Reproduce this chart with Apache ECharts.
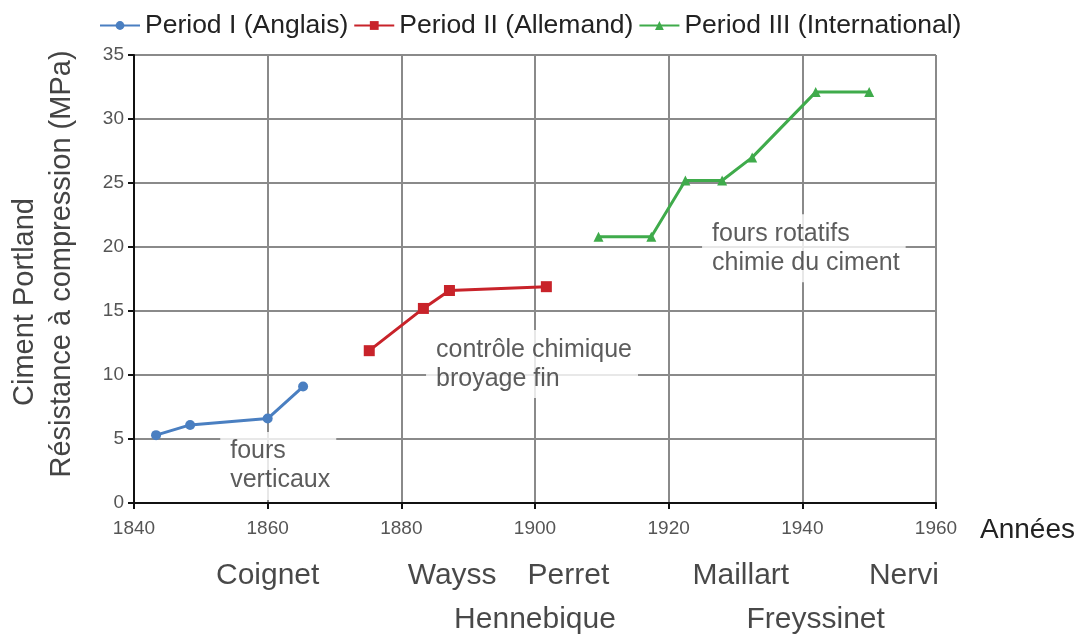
<!DOCTYPE html>
<html>
<head>
<meta charset="utf-8">
<script src="https://cdn.jsdelivr.net/npm/echarts@6/dist/echarts.min.js"></script>
<style>
  html, body { margin: 0; padding: 0; background: #fff; }
  #chart { width: 1085px; height: 634px; }
</style>
</head>
<body>
<div id="chart"></div>
<script>
// values: [year, MPa]
const period1 = [[1843.3, 5.3], [1848.4, 6.1], [1860, 6.6], [1865.3, 9.1]]
const period2 = [[1875.2, 11.9], [1883.3, 15.2], [1887.2, 16.6], [1901.7, 16.9]]
const period3 = [[1909.5, 20.8], [1917.4, 20.8], [1922.5, 25.2], [1928, 25.2], [1932.5, 27.0], [1942, 32.1], [1950, 32.1]]
const seriesNames = ['Period I (Anglais)', 'Period II (Allemand)', 'Period III (International)']

// notes inside the plot: [year of left edge, MPa, text]
const notes = [
  [1852.9, 2.9, 'fours\nverticaux'],
  [1883.7, 10.85, 'contrôle chimique\nbroyage fin'],
  [1925.0, 19.9, 'fours rotatifs\nchimie du ciment']
]
// engineers under the year axis: [year, row, name]
const engineers = [
  [1860, 0, 'Coignet'], [1887.6, 0, 'Wayss'], [1905, 0, 'Perret'], [1930.8, 0, 'Maillart'], [1955.2, 0, 'Nervi'],
  [1900, 1, 'Hennebique'], [1942, 1, 'Freyssinet']
]
const rowValues = [-5.7, -9.1]

const font = 'Liberation Sans, Arial, sans-serif'
const chart = echarts.init(document.getElementById('chart'))

const lineSeries = (name, data, color, symbol, size) => ({
  name, type: 'line', data, symbol, symbolSize: size, z: 5,
  lineStyle: { color, width: 3 }, itemStyle: { color }
})

chart.setOption({
  animation: false,
  backgroundColor: '#fff',
  textStyle: { fontFamily: font },
  legend: {
    data: seriesNames, top: 7, left: 94, itemWidth: 40, itemHeight: 11, itemGap: 5,
    textStyle: { fontSize: 26.5, color: '#222', fontFamily: font }
  },
  grid: { left: 134, right: 149, top: 55, bottom: 131, containLabel: false, outerBoundsMode: 'none' },
  xAxis: {
    type: 'value', min: 1840, max: 1960, interval: 20,
    name: 'Années', nameLocation: 'end', nameGap: 44,
    nameTextStyle: { fontSize: 28, color: '#222', verticalAlign: 'top', padding: [13, 0, 0, 0] },
    axisLine: { lineStyle: { color: '#111', width: 2 } },
    axisTick: { show: true, length: 6, lineStyle: { color: '#111', width: 2 } },
    axisLabel: { fontSize: 19, color: '#555', margin: 16, formatter: v => String(v) },
    splitLine: { lineStyle: { color: '#8a8a8a', width: 2 } }
  },
  yAxis: {
    type: 'value', min: 0, max: 35, interval: 5,
    name: '{a|Ciment Portland}\n{b|Résistance à compression (MPa)}',
    nameLocation: 'middle', nameRotate: 90, nameGap: 54,
    nameTextStyle: {
      color: '#444',
      rich: {
        a: { fontSize: 29, lineHeight: 37, color: '#444', padding: [0, 46, 0, 0] },
        b: { fontSize: 29, lineHeight: 37, color: '#444', padding: [0, 0, 0, 30] }
      }
    },
    axisLine: { show: true, lineStyle: { color: '#111', width: 2 } },
    axisTick: { show: true, length: 6, lineStyle: { color: '#111', width: 2 } },
    axisLabel: { fontSize: 19, color: '#555', margin: 10 },
    splitLine: { lineStyle: { color: '#8a8a8a', width: 2 } }
  },
  series: [
    lineSeries(seriesNames[0], period1, '#4a7fc1', 'circle', 10),
    lineSeries(seriesNames[1], period2, '#c8232a', 'rect', 11),
    lineSeries(seriesNames[2], period3, '#3fab4b', 'triangle', 10),
    {
      type: 'scatter', symbolSize: 0, z: 4, silent: true,
      data: notes.map(n => ({ value: [n[0], n[1]], name: n[2] })),
      label: {
        show: true, position: 'inside', formatter: p => p.name,
        fontSize: 25, lineHeight: 29, color: '#333', align: 'left',
        backgroundColor: '#fff', padding: [5, 6, 5, 10]
      }
    },
    {
      type: 'scatter', symbolSize: 0, clip: false, silent: true,
      data: engineers.map(e => ({ value: [e[0], rowValues[e[1]]], name: e[2] })),
      label: { show: true, position: 'inside', formatter: p => p.name, fontSize: 30, color: '#1a1a1a' }
    }
  ]
})
</script>
</body>
</html>
